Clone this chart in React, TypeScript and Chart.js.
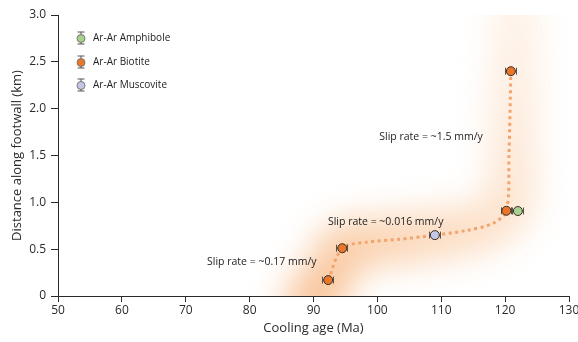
import React, { useEffect, useRef } from 'react';
import { Chart, registerables } from 'chart.js';

Chart.register(...registerables);

// ---- data ----
const amphiboleAge = [122.0];
const amphiboleDist = [0.907];
const biotiteAge = [92.3, 94.5, 120.2, 120.9];
const biotiteDist = [0.17, 0.51, 0.91, 2.4];
const muscoviteAge = [109.0];
const muscoviteDist = [0.65];
const ageError = 0.9;

// dotted trend through the samples
const trendAge = [92.3, 94.5, 98.3, 103.5, 109.0, 114.0, 118.1, 120.2, 120.6, 120.9];
const trendDist = [0.17, 0.51, 0.575, 0.605, 0.65, 0.7, 0.776, 0.91, 1.5, 2.4];

// broad glow band
const glowAge = [87.5, 92.3, 94.5, 103.0, 109.0, 118.0, 120.8, 121.5, 122.0];
const glowDist = [-0.2, 0.17, 0.51, 0.6, 0.65, 0.78, 1.0, 2.4, 3.3];

const annotationTexts = ['Slip rate = ~1.5 mm/y', 'Slip rate = ~0.016 mm/y', 'Slip rate = ~0.17 mm/y'];
const annotationAges = [108.4, 101.3, 81.9];
const annotationDists = [1.7, 0.79, 0.36];

const legendLabels = ['Ar-Ar Amphibole', 'Ar-Ar Biotite', 'Ar-Ar Muscovite'];
const legendColors = ['#A9D18E', '#E8772A', '#C4C7E8'];

const xMin = 50;
const xMax = 130;
const yMin = 0;
const yMax = 3;

const FONT = '"Open Sans", sans-serif';
const DARK = '#2b2b2b';

const zip = (xs: number[], ys: number[]) => xs.map((x, i) => ({ x, y: ys[i] }));

const glowPlugin = {
  id: 'glowPlugin',
  beforeDatasetDraw(chart: any, args: any) {
    const ds = chart.data.datasets[args.index];
    if (ds.isGlow) {
      chart.ctx.save();
      chart.ctx.filter = 'blur(17px)';
    }
  },
  afterDatasetDraw(chart: any, args: any) {
    const ds = chart.data.datasets[args.index];
    if (ds.isGlow) {
      chart.ctx.restore();
    }
  },
};

const errorBarPlugin = {
  id: 'errorBarPlugin',
  beforeDatasetDraw(chart: any, args: any) {
    const ds = chart.data.datasets[args.index];
    if (!ds.errX) return;
    const ctx = chart.ctx;
    const xs = chart.scales.x;
    const ys = chart.scales.y;
    ctx.save();
    ctx.strokeStyle = '#555';
    ctx.lineWidth = 1;
    ds.data.forEach((p: any) => {
      const x1 = Math.round(xs.getPixelForValue(p.x - ds.errX)) + 0.5;
      const x2 = Math.round(xs.getPixelForValue(p.x + ds.errX)) - 0.5;
      const y = ys.getPixelForValue(p.y);
      ctx.beginPath();
      ctx.moveTo(x1, y);
      ctx.lineTo(x2, y);
      ctx.moveTo(x1, y - 3.5);
      ctx.lineTo(x1, y + 3.5);
      ctx.moveTo(x2, y - 3.5);
      ctx.lineTo(x2, y + 3.5);
      ctx.stroke();
    });
    ctx.restore();
  },
};

const annotationPlugin = {
  id: 'annotationPlugin',
  afterDatasetsDraw(chart: any) {
    const ctx = chart.ctx;
    const xs = chart.scales.x;
    const ys = chart.scales.y;
    ctx.save();
    ctx.fillStyle = '#222';
    ctx.font = `10.5px ${FONT}`;
    ctx.textAlign = 'center';
    ctx.textBaseline = 'middle';
    annotationTexts.forEach((t, i) => {
      ctx.fillText(t, xs.getPixelForValue(annotationAges[i]), ys.getPixelForValue(annotationDists[i]));
    });
    ctx.restore();
  },
};

const legendPlugin = {
  id: 'customLegend',
  afterDraw(chart: any) {
    const ctx = chart.ctx;
    const area = chart.chartArea;
    const x0 = area.left + 23;
    const rowY = [area.top + 23, area.top + 47, area.top + 70];
    ctx.save();
    legendLabels.forEach((label, i) => {
      const y = rowY[i];
      ctx.strokeStyle = '#555';
      ctx.lineWidth = 1;
      ctx.beginPath();
      ctx.moveTo(x0, y - 6);
      ctx.lineTo(x0, y + 6);
      ctx.moveTo(x0 - 3.5, y - 6);
      ctx.lineTo(x0 + 3.5, y - 6);
      ctx.moveTo(x0 - 3.5, y + 6);
      ctx.lineTo(x0 + 3.5, y + 6);
      ctx.stroke();
      ctx.beginPath();
      ctx.arc(x0, y + 0.5, 4, 0, Math.PI * 2);
      ctx.fillStyle = legendColors[i];
      ctx.fill();
      ctx.strokeStyle = '#777';
      ctx.stroke();
      ctx.fillStyle = '#222';
      ctx.font = `10px ${FONT}`;
      ctx.textAlign = 'left';
      ctx.textBaseline = 'middle';
      ctx.fillText(label, x0 + 12, y + 0.5);
    });
    ctx.restore();
  },
};

export default function App() {
  const ref = useRef<HTMLCanvasElement>(null);
  useEffect(() => {
    if (!ref.current) return;
    const pointStyle = (color: string) => ({
      pointRadius: 4.5,
      pointHoverRadius: 4.5,
      pointBackgroundColor: color,
      pointBorderColor: '#3d2a20',
      pointBorderWidth: 1,
      showLine: false,
    });
    const glowColor = (context: any) => {
      const chart = context.chart;
      const area = chart.chartArea;
      if (!area) return 'rgba(248,178,118,0.5)';
      const g = chart.ctx.createLinearGradient(area.left + 200, area.bottom, area.right - 40, area.top);
      g.addColorStop(0, 'rgba(244,160,92,0.75)');
      g.addColorStop(0.45, 'rgba(248,185,130,0.5)');
      g.addColorStop(1, 'rgba(252,215,185,0.3)');
      return g;
    };
    const chart = new Chart(ref.current, {
      type: 'scatter',
      data: {
        datasets: [
          {
            label: 'glow',
            isGlow: true,
            data: zip(glowAge, glowDist),
            showLine: true,
            borderColor: glowColor,
            borderWidth: 48,
            tension: 0.3,
            pointRadius: 0,
            clip: 0,
            order: 10,
          } as any,
          {
            label: 'trend',
            data: zip(trendAge, trendDist),
            showLine: true,
            borderColor: '#F2A46C',
            borderWidth: 3,
            borderDash: [3, 3.5],
            tension: 0.3,
            pointRadius: 0,
            order: 5,
          } as any,
          { label: 'Ar-Ar Amphibole', data: zip(amphiboleAge, amphiboleDist), errX: ageError, order: 0, ...pointStyle(legendColors[0]) } as any,
          { label: 'Ar-Ar Biotite', data: zip(biotiteAge, biotiteDist), errX: ageError, order: 1, ...pointStyle(legendColors[1]) } as any,
          { label: 'Ar-Ar Muscovite', data: zip(muscoviteAge, muscoviteDist), errX: ageError, order: 2, ...pointStyle(legendColors[2]) } as any,
        ],
      },
      options: {
        responsive: false,
        animation: false,
        layout: { padding: { top: 15, right: 9, left: 0, bottom: 0 } },
        plugins: { legend: { display: false }, tooltip: { enabled: false } },
        scales: {
          x: {
            type: 'linear',
            min: xMin,
            max: xMax,
            afterFit: (s: any) => { s.height = 46; s.paddingRight = 0; s.paddingLeft = 0; },
            ticks: { stepSize: 10, color: DARK, font: { family: FONT, size: 12 }, padding: 1, maxRotation: 0 },
            grid: { drawOnChartArea: false, tickLength: 6, tickColor: DARK },
            border: { color: DARK, width: 1 },
            title: { display: true, text: 'Cooling age (Ma)', color: DARK, font: { family: FONT, size: 13 }, padding: { top: 0, bottom: 6 } },
          },
          y: {
            type: 'linear',
            min: yMin,
            max: yMax,
            afterFit: (s: any) => { s.width = 58; s.paddingTop = 0; s.paddingBottom = 0; },
            ticks: {
              stepSize: 0.5,
              color: DARK,
              font: { family: FONT, size: 12 },
              padding: 5,
              callback: (v: any) => (Number(v) === 0 ? '0' : Number(v).toFixed(1)),
            },
            grid: { drawOnChartArea: false, tickLength: 7, tickColor: DARK },
            border: { color: DARK, width: 1 },
            title: { display: true, text: 'Distance along footwall (km)', color: DARK, font: { family: FONT, size: 13 }, padding: { top: 9, bottom: 0 } },
          },
        },
      },
      plugins: [glowPlugin, errorBarPlugin, annotationPlugin, legendPlugin],
    } as any);
    return () => chart.destroy();
  }, []);
  return (
    <div style={{ position: 'absolute', left: 0, top: 0, width: 578, height: 342, background: '#fff' }}>
      <canvas ref={ref} width={578} height={342} style={{ display: 'block' }} />
    </div>
  );
}
